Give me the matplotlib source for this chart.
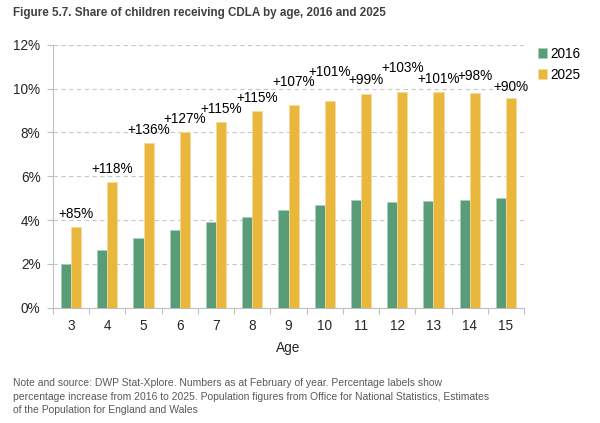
import numpy as np
import matplotlib
matplotlib.use("Agg")
import matplotlib.pyplot as plt
from matplotlib.ticker import FixedLocator, PercentFormatter

plt.rcParams['font.family'] = ['Liberation Sans', 'DejaVu Sans']

# --- data ---
ages = ["3", "4", "5", "6", "7", "8", "9", "10", "11", "12", "13", "14", "15"]
share_2016 = [1.98, 2.62, 3.17, 3.53, 3.93, 4.16, 4.46, 4.67, 4.90, 4.83, 4.89, 4.92, 5.02]
share_2025 = [3.67, 5.74, 7.50, 8.02, 8.48, 8.96, 9.25, 9.42, 9.77, 9.82, 9.85, 9.79, 9.56]
pct_labels = ["+85%", "+118%", "+136%", "+127%", "+115%", "+115%", "+107%",
              "+101%", "+99%", "+103%", "+101%", "+98%", "+90%"]
# extra lift of labels (px) so they don't collide, as in the original
label_lift = [0, 0, 0, 0, 0, 0, 10, 16, 1, 11, 0, 4, -2]

green = "#599d78"
yellow = "#e8b73b"
grey_axis = "#bfbfbf"
text_col = "#262626"
fs = 9.8

fig = plt.figure(figsize=(6.0, 4.23), dpi=100)
ax = fig.add_axes([53 / 600, 1 - 307.7 / 423, (524 - 53) / 600, (307.7 - 44.7) / 423])

x = np.arange(len(ages))
w = 0.28
ax.bar(x - w / 2, share_2016, width=w, color=green, edgecolor="#a9d0b8", linewidth=0.5,
       label="2016", zorder=3)
ax.bar(x + w / 2, share_2025, width=w, color=yellow, edgecolor="#f5dc9c", linewidth=0.5,
       label="2025", zorder=3)

for xi, val, lab, lift in zip(x, share_2025, pct_labels, label_lift):
    ax.annotate(lab, (xi + w / 2, val), xytext=(0, (13 + lift) * 0.72),
                textcoords="offset points", ha="center", va="center",
                fontsize=fs, color="black")

ax.set_xlim(-0.5, len(ages) - 0.5)
ax.set_ylim(0, 12)
ax.yaxis.set_major_locator(FixedLocator(np.arange(0, 13, 2)))
ax.yaxis.set_major_formatter(PercentFormatter(decimals=0))
ax.set_xticks(x)
ax.set_xticklabels(ages)
ax.xaxis.set_minor_locator(FixedLocator(np.arange(-0.5, len(ages), 1)))
ax.tick_params(axis="x", which="major", length=0, pad=8, labelsize=fs, colors=text_col)
ax.tick_params(axis="x", which="minor", length=4, color=grey_axis, width=0.8)
ax.tick_params(axis="y", length=4, color=grey_axis, width=0.8, labelsize=fs, pad=5)
ax.tick_params(axis="y", labelcolor=text_col)
ax.tick_params(axis="x", labelcolor=text_col)

ax.grid(axis="y", linestyle=(0, (4, 3)), color="#c8c8c8", linewidth=0.8, zorder=0)
for s in ["top", "right"]:
    ax.spines[s].set_visible(False)
ax.spines["left"].set_color(grey_axis)
ax.spines["bottom"].set_color(grey_axis)

ax.set_xlabel("Age", fontsize=fs, color=text_col, labelpad=6)

fig.legend(*ax.get_legend_handles_labels(), loc="upper left",
           bbox_to_anchor=(535 / 600, 1 - 44 / 423), frameon=False, fontsize=fs,
           handlelength=0.7, handleheight=0.7, handletextpad=0.25, labelspacing=0.5,
           borderaxespad=0, borderpad=0.2)

fig.text(13 / 600, 1 - 13 / 423, "Figure 5.7. Share of children receiving CDLA by age, 2016 and 2025",
         fontsize=8.4, fontweight="bold", color="#404040", va="center", ha="left")

note = ("Note and source: DWP Stat-Xplore. Numbers as at February of year. Percentage labels show\n"
        "percentage increase from 2016 to 2025. Population figures from Office for National Statistics, Estimates\n"
        "of the Population for England and Wales")
fig.text(13 / 600, 1 - 378 / 423, note, fontsize=7.5, color="#595959", va="top", ha="left",
         linespacing=1.45)

fig.savefig("out.png", dpi=100)
